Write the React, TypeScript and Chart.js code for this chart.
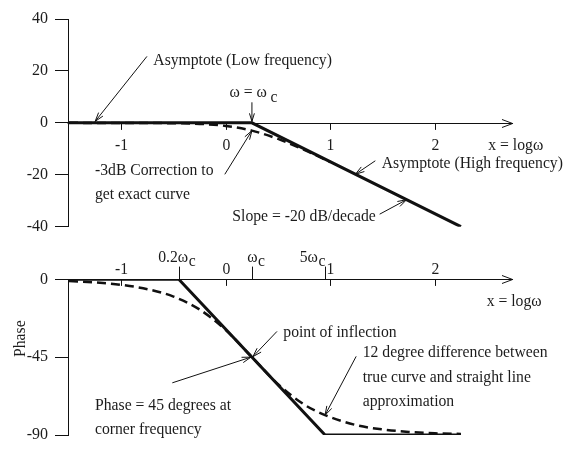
import { useEffect, useRef } from "react";
import { Chart, registerables } from "chart.js";

Chart.register(...registerables);

// x = log10(ω); the corner frequency ω_c sits at log ω_c = 0.25
const logCorner = 0.25;

// Magnitude (dB): straight-line asymptotes and the exact curve
const magAsymX = [-1.5, 0.25, 2.25];
const magAsymY = [0, 0, -40];
const magExactX = [-1.5, -1, -0.5, -0.25, 0, 0.25, 0.5, 0.75, 1.0];
const magExactY = [0, -0.05, -0.15, -0.4, -1.2, -3, -6.2, -10.4, -15.1];
const magTicks = [40, 20, 0, -20, -40];

// Phase (degrees): straight-line approximation and the exact curve
const phaseAsymX = [-1.5, -0.45, 0.95, 2.25];
const phaseAsymY = [0, 0, -90, -90];
const phaseExactX = [-1.5, -1.25, -1, -0.75, -0.5, -0.25, 0, 0.25, 0.5, 0.75, 0.95, 1.25, 1.5, 1.75, 2.0, 2.25];
const phaseExactY = [-1, -1.8, -3.2, -5.7, -10, -17.5, -29.4, -45, -60.6, -72.4, -78.5, -84.3, -86.8, -88.2, -89, -89.4];
const phaseTicks = [0, -45, -90];

// x-axis marks
const decadeTicks = [-1, 0, 1, 2];
const cornerTicks = [-0.45, 0.25, 0.95];
const cornerTickLabels = ["0.2ω", "ω", "5ω"];

const X_MIN = -1.51;
const X_MAX = 3.0;
const AXIS_END = 2.745;

const FONT = '"Liberation Serif", "Times New Roman", serif';
const FONT_SIZE = 15.7;
const INK = "#111";
const TXT = "#1c1c1c";

type Ctx = CanvasRenderingContext2D;

function arrow(ctx: Ctx, x1: number, y1: number, x2: number, y2: number, head = 9, spread = 0.3) {
  ctx.beginPath();
  ctx.moveTo(x1, y1);
  ctx.lineTo(x2, y2);
  ctx.stroke();
  const a = Math.atan2(y2 - y1, x2 - x1);
  ctx.beginPath();
  ctx.moveTo(x2 - head * Math.cos(a - spread), y2 - head * Math.sin(a - spread));
  ctx.lineTo(x2, y2);
  ctx.lineTo(x2 - head * Math.cos(a + spread), y2 - head * Math.sin(a + spread));
  ctx.stroke();
}

function text(ctx: Ctx, s: string, x: number, y: number, align: CanvasTextAlign = "left") {
  ctx.font = `${FONT_SIZE}px ${FONT}`;
  ctx.textAlign = align;
  ctx.textBaseline = "alphabetic";
  ctx.fillText(s, x, y);
}

function pairs(xs: number[], ys: number[]) {
  return xs.map((x, i) => ({ x, y: ys[i] }));
}

function baseOptions(yMin: number, yMax: number, yTicks: number[], padTop: number, padBottom: number) {
  return {
    responsive: false,
    animation: false as const,
    events: [],
    layout: { padding: { top: padTop, bottom: padBottom, left: 0, right: 26.7 } },
    plugins: { legend: { display: false }, tooltip: { enabled: false } },
    scales: {
      x: { type: "linear" as const, min: X_MIN, max: X_MAX, display: false },
      y: {
        type: "linear" as const,
        min: yMin,
        max: yMax,
        afterFit: (s: any) => {
          s.width = 68;
        },
        afterBuildTicks: (s: any) => {
          s.ticks = yTicks.map((v) => ({ value: v }));
        },
        grid: { drawOnChartArea: false, drawTicks: true, tickLength: 13, color: INK, lineWidth: 1 },
        border: { display: true, color: INK, width: 1 },
        ticks: { color: TXT, padding: 7, font: { family: FONT, size: 16 } },
      },
    },
  };
}

const solidStyle = { borderColor: INK, borderWidth: 3, pointRadius: 0, tension: 0, fill: false };
const dashStyle = {
  borderColor: INK,
  borderWidth: 2.5,
  borderDash: [9, 5],
  pointRadius: 0,
  cubicInterpolationMode: "monotone" as const,
  fill: false,
};

const magOverlay = {
  id: "magOverlay",
  afterDraw(chart: any) {
    const ctx: Ctx = chart.ctx;
    const X = (v: number) => chart.scales.x.getPixelForValue(v);
    const Y = (v: number) => chart.scales.y.getPixelForValue(v);
    ctx.save();
    ctx.strokeStyle = INK;
    ctx.fillStyle = TXT;
    ctx.lineWidth = 1;
    ctx.lineCap = "round";
    const y0 = Math.round(Y(0)) + 0.5;

    // frequency axis with arrow
    arrow(ctx, chart.chartArea.left, y0, X(AXIS_END), y0, 11, 0.36);
    decadeTicks.forEach((v) => {
      const px = Math.round(X(v)) + 0.5;
      ctx.beginPath();
      ctx.moveTo(px, y0);
      ctx.lineTo(px, y0 + 6);
      ctx.stroke();
      text(ctx, String(v), px, y0 + 26.5, "center");
    });
    text(ctx, "x = logω", 488.3, y0 + 26);

    // corner marker
    const xc = X(logCorner);
    text(ctx, "ω = ω", xc + 15, 96.7, "right");
    text(ctx, "c", xc + 18.5, 101.7);
    arrow(ctx, xc, 102.7, xc, Y(0) - 1.5, 8, 0.3);

    // annotations
    text(ctx, "Asymptote (Low frequency)", 153.3, 64.7);
    arrow(ctx, 146.7, 56.7, X(-1.25), Y(0) - 1.5);

    text(ctx, "-3dB Correction to", 95, 175);
    text(ctx, "get exact curve", 95, 199.3);
    arrow(ctx, 225, 174, X(logCorner), Y(-3));

    text(ctx, "Asymptote (High frequency)", 381.7, 168.3);
    arrow(ctx, 375, 161, X(1.24), Y(-19.8));

    text(ctx, "Slope = -20 dB/decade", 232.3, 220.5);
    arrow(ctx, 380, 214, X(1.73), Y(-29.6));
    ctx.restore();
  },
};

const phaseOverlay = {
  id: "phaseOverlay",
  afterDraw(chart: any) {
    const ctx: Ctx = chart.ctx;
    const X = (v: number) => chart.scales.x.getPixelForValue(v);
    const Y = (v: number) => chart.scales.y.getPixelForValue(v);
    ctx.save();
    ctx.strokeStyle = INK;
    ctx.fillStyle = TXT;
    ctx.lineWidth = 1;
    ctx.lineCap = "round";
    const y0 = Math.round(Y(0)) + 0.5;

    arrow(ctx, chart.chartArea.left, y0, X(AXIS_END), y0, 11, 0.36);
    decadeTicks.forEach((v) => {
      const px = Math.round(X(v)) + 0.5;
      ctx.beginPath();
      ctx.moveTo(px, y0);
      ctx.lineTo(px, y0 + 6);
      ctx.stroke();
      text(ctx, String(v), px, y0 - 6, "center");
    });
    const labelShift = [8.7, 5, -7.6];
    cornerTicks.forEach((v, i) => {
      const px = Math.round(X(v)) + 0.5;
      ctx.beginPath();
      ctx.moveTo(px, y0);
      ctx.lineTo(px, y0 - 12.5);
      ctx.stroke();
      const right = px + labelShift[i];
      text(ctx, cornerTickLabels[i], right, y0 - 18, "right");
      text(ctx, "c", right + 0.5, y0 - 13.3);
    });
    text(ctx, "x = logω", 486.7, y0 + 26);

    // axis title
    ctx.save();
    ctx.translate(25, 357);
    ctx.rotate(-Math.PI / 2);
    text(ctx, "Phase", 0, 0);
    ctx.restore();

    // annotations
    text(ctx, "point of inflection", 283.3, 336.7);
    arrow(ctx, 276.7, 331.7, X(logCorner) + 1, Y(-45) - 0.5);

    text(ctx, "12 degree difference between", 362.7, 357.3);
    text(ctx, "true curve and straight line", 362.7, 381.6);
    text(ctx, "approximation", 362.7, 405.9);
    arrow(ctx, 356, 356.7, X(0.95), Y(-78.5));

    text(ctx, "Phase = 45 degrees at", 95, 410);
    text(ctx, "corner frequency", 95, 434.3);
    arrow(ctx, 172.7, 382.7, X(logCorner) - 1, Y(-45));
    ctx.restore();
  },
};

function magConfig(): any {
  return {
    type: "line",
    data: {
      datasets: [
        { ...dashStyle, data: pairs(magExactX, magExactY) },
        { ...solidStyle, data: pairs(magAsymX, magAsymY) },
      ],
    },
    options: baseOptions(-40, 40, magTicks, 19, 463 - 226.7),
    plugins: [magOverlay],
  };
}

function phaseConfig(): any {
  return {
    type: "line",
    data: {
      datasets: [
        { ...dashStyle, data: pairs(phaseExactX, phaseExactY) },
        { ...solidStyle, data: pairs(phaseAsymX, phaseAsymY) },
      ],
    },
    options: baseOptions(-90, 0, phaseTicks, 279.3, 463 - 435),
    plugins: [phaseOverlay],
  };
}

export default function App() {
  const magRef = useRef<HTMLCanvasElement>(null);
  const phaseRef = useRef<HTMLCanvasElement>(null);

  useEffect(() => {
    const mag = new Chart(magRef.current as HTMLCanvasElement, magConfig());
    const phase = new Chart(phaseRef.current as HTMLCanvasElement, phaseConfig());
    return () => {
      mag.destroy();
      phase.destroy();
    };
  }, []);

  return (
    <div style={{ position: "absolute", left: 0, top: 0, width: 566, height: 463, background: "#fff" }}>
      <canvas ref={magRef} width={566} height={463} style={{ position: "absolute", left: 0, top: 0 }} />
      <canvas ref={phaseRef} width={566} height={463} style={{ position: "absolute", left: 0, top: 0 }} />
    </div>
  );
}
